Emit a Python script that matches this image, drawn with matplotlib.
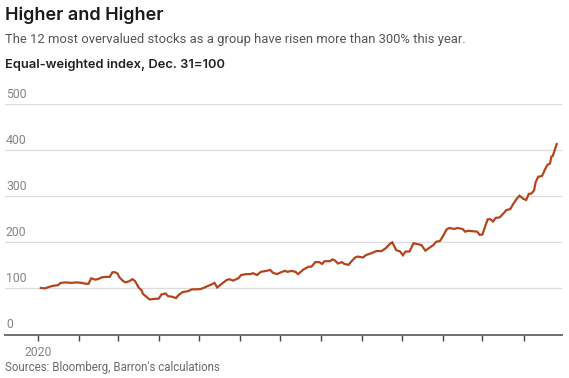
import matplotlib
matplotlib.use("Agg")
import matplotlib.pyplot as plt
import matplotlib.dates as mdates
import matplotlib.transforms as mtransforms
import pandas as pd

OUTPUT_FILE = "out.png"

TITLE = "Higher and Higher"
SUBTITLE = "The 12 most overvalued stocks as a group have risen more than 300% this year."
UNITS = "Equal-weighted index, Dec. 31=100"
SOURCE = "Sources: Bloomberg, Barron's calculations"

# values, dates approximate
dates = [
    "2020-01-03", "2020-01-06", "2020-01-10", "2020-01-13", "2020-01-16", "2020-01-18",
    "2020-01-22", "2020-01-26", "2020-01-30", "2020-02-03", "2020-02-06", "2020-02-08",
    "2020-02-10", "2020-02-13", "2020-02-15", "2020-02-18", "2020-02-21", "2020-02-24",
    "2020-02-26", "2020-02-28", "2020-03-01", "2020-03-02", "2020-03-05", "2020-03-07",
    "2020-03-10", "2020-03-12", "2020-03-14", "2020-03-17", "2020-03-19", "2020-03-20",
    "2020-03-23", "2020-03-25", "2020-03-28", "2020-04-01", "2020-04-03", "2020-04-06",
    "2020-04-08", "2020-04-11", "2020-04-14", "2020-04-16", "2020-04-19", "2020-04-23",
    "2020-04-26", "2020-04-30", "2020-05-03", "2020-05-07", "2020-05-11", "2020-05-13",
    "2020-05-15", "2020-05-18", "2020-05-22", "2020-05-24", "2020-05-27", "2020-05-31",
    "2020-06-02", "2020-06-06", "2020-06-09", "2020-06-11", "2020-06-14", "2020-06-17",
    "2020-06-21", "2020-06-24", "2020-06-26", "2020-06-29", "2020-07-03", "2020-07-05",
    "2020-07-07", "2020-07-10", "2020-07-13", "2020-07-15", "2020-07-19", "2020-07-23",
    "2020-07-25", "2020-07-28", "2020-07-31", "2020-08-02", "2020-08-04", "2020-08-08",
    "2020-08-10", "2020-08-12", "2020-08-14", "2020-08-17", "2020-08-19", "2020-08-22",
    "2020-08-24", "2020-08-27", "2020-08-29", "2020-09-02", "2020-09-04", "2020-09-07",
    "2020-09-09", "2020-09-12", "2020-09-16", "2020-09-19", "2020-09-22", "2020-09-24",
    "2020-09-27", "2020-09-30", "2020-10-02", "2020-10-04", "2020-10-07", "2020-10-10",
    "2020-10-13", "2020-10-16", "2020-10-19", "2020-10-22", "2020-10-25", "2020-10-27",
    "2020-10-30", "2020-11-01", "2020-11-04", "2020-11-06", "2020-11-10", "2020-11-12",
    "2020-11-16", "2020-11-18", "2020-11-20", "2020-11-24", "2020-11-27", "2020-11-29",
    "2020-12-01", "2020-12-03", "2020-12-05", "2020-12-07", "2020-12-09", "2020-12-11",
    "2020-12-14", "2020-12-17", "2020-12-19", "2020-12-22", "2020-12-24", "2020-12-27",
    "2020-12-29", "2021-01-01", "2021-01-03", "2021-01-05", "2021-01-07", "2021-01-09",
    "2021-01-10", "2021-01-12", "2021-01-15", "2021-01-17", "2021-01-19", "2021-01-21",
    "2021-01-22", "2021-01-23", "2021-01-25", "2021-01-26",
]
index_values = [
    101, 100, 104, 106, 107, 112,
    113, 112, 113, 112, 110, 110,
    122, 119, 120, 124, 125, 125,
    135, 135, 132, 125, 116, 113,
    116, 120, 116, 101, 96, 88,
    81, 76, 77, 78, 87, 89,
    83, 82, 79, 86, 92, 94,
    98, 98, 99, 104, 109, 112,
    102, 109, 118, 120, 117, 122,
    129, 131, 131, 133, 129, 136,
    138, 140, 134, 131, 136, 138,
    136, 138, 136, 131, 141, 147,
    147, 157, 157, 153, 159, 159,
    163, 160, 154, 157, 153, 151,
    158, 167, 169, 167, 172, 175,
    177, 181, 181, 187, 196, 200,
    183, 180, 172, 180, 180, 198,
    196, 194, 182, 188, 194, 201,
    203, 212, 228, 231, 229, 231,
    229, 223, 225, 224, 223, 216,
    217, 234, 250, 250, 245, 253,
    254, 263, 270, 272, 282, 295,
    301, 294, 292, 305, 306, 313,
    329, 342, 344, 357, 368, 371,
    386, 387, 404, 413,
]
y_ticks = [0, 100, 200, 300, 400, 500]

series = pd.Series(index_values, index=pd.to_datetime(dates))

LINE_COLOR = "#b5441e"
GRID_COLOR = "#dcdcdc"
TICK_TEXT = "#858585"

plt.rcParams["font.family"] = ["Roboto", "DejaVu Sans"]

fig = plt.figure(figsize=(5.69, 3.78), dpi=100)
ax = fig.add_axes([5 / 569, 43.5 / 378, 557 / 569, 230.5 / 378])

ax.plot(series.index, series.values, color=LINE_COLOR, lw=1.6,
        solid_joinstyle="miter", zorder=3)

ax.set_ylim(0, 500)
ax.set_xlim(pd.Timestamp("2019-12-07"), pd.Timestamp("2021-01-30"))

for spine in ("top", "right", "left"):
    ax.spines[spine].set_visible(False)
ax.spines["bottom"].set_color("#6e6e6e")
ax.spines["bottom"].set_linewidth(1.4)

ax.set_yticks(y_ticks)
ax.tick_params(axis="y", length=0, labelleft=False)
ax.grid(axis="y", color=GRID_COLOR, lw=0.9)
ax.set_axisbelow(True)

# y labels sit on top of their gridlines
lbl_tr = mtransforms.offset_copy(ax.get_yaxis_transform(), fig=fig, x=1, y=3, units="dots")
for v in y_ticks:
    ax.text(0, v, str(v), transform=lbl_tr, ha="left", va="bottom",
            fontsize=8.8, color=TICK_TEXT)


def year_label(x, pos):
    d = mdates.num2date(x)
    return "2020" if (d.year, d.month) == (2020, 1) else ""


ax.xaxis.set_major_locator(mdates.MonthLocator())
ax.xaxis.set_major_formatter(plt.FuncFormatter(year_label))
ax.tick_params(axis="x", length=4, width=1, color="#444444", pad=4,
               labelsize=8.8, labelcolor=TICK_TEXT)

fig.text(5 / 569, 1 - 7 / 378, TITLE, ha="left", va="top", fontsize=13,
         family=["Inter", "DejaVu Sans"], fontweight="semibold", color="#1a1a1a")
fig.text(5 / 569, 1 - 33 / 378, SUBTITLE, ha="left", va="top", fontsize=9.4,
         color="#555555")
fig.text(5 / 569, 1 - 59 / 378, UNITS, ha="left", va="top", fontsize=9.3,
         family=["Inter", "DejaVu Sans"], fontweight="semibold", color="#222222")
fig.text(5 / 569, 1 - 361 / 378, SOURCE, ha="left", va="top", fontsize=8.3,
         color="#6a6a6a")

plt.savefig(OUTPUT_FILE, dpi=100)
